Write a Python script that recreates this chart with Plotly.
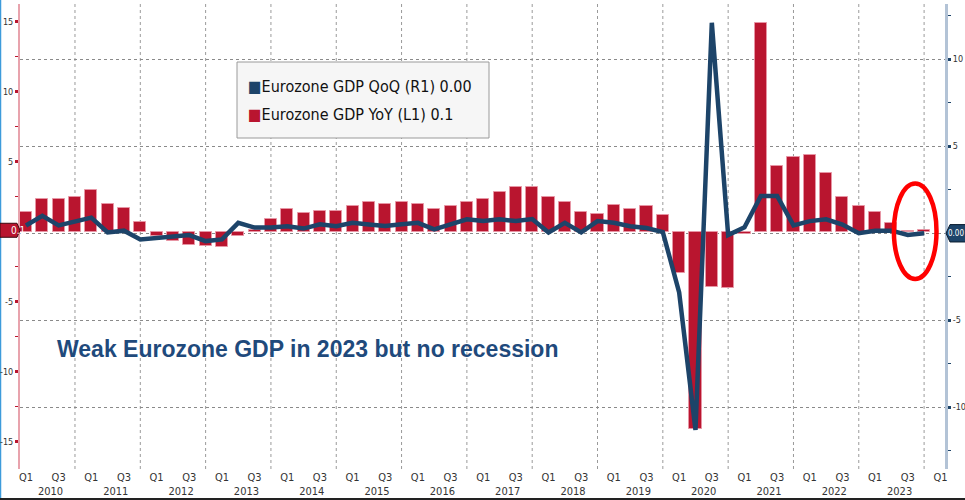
import plotly.graph_objects as go

# Quarterly periods 2010Q1 .. 2023Q4
years = list(range(2010, 2024))
quarters = [f"{y}Q{q}" for y in years for q in (1, 2, 3, 4)]

# Eurozone GDP, % year-on-year (left axis, bars)
gdp_yoy = [1.4, 2.3, 2.3, 2.5, 3.0, 2.0, 1.7, 0.7,
           -0.3, -0.7, -0.95, -1.0, -1.1, -0.3, 0.1, 0.9,
           1.65, 1.3, 1.5, 1.5, 1.8, 2.1, 2.0, 2.1,
           2.0, 1.65, 1.8, 2.15, 2.3, 2.85, 3.2, 3.2,
           2.5, 2.15, 1.4, 1.25, 1.9, 1.65, 1.8, 1.2,
           -2.95, -14.1, -3.95, -4.0, -0.15, 14.9, 4.7, 5.3,
           5.45, 4.2, 2.5, 1.85, 1.4, 0.65, 0.03, 0.1]

# Eurozone GDP, % quarter-on-quarter (right axis, line)
gdp_qoq = [0.45, 1.0, 0.45, 0.65, 0.9, 0.05, 0.15, -0.35,
           -0.25, -0.15, -0.1, -0.45, -0.35, 0.6, 0.33, 0.33,
           0.4, 0.27, 0.52, 0.4, 0.6, 0.5, 0.42, 0.52,
           0.6, 0.23, 0.5, 0.8, 0.7, 0.8, 0.7, 0.82,
           0.05, 0.6, 0.05, 0.7, 0.6, 0.4, 0.3, 0.07,
           -3.4, -11.3, 12.1, -0.1, 0.35, 2.15, 2.15, 0.45,
           0.7, 0.8, 0.5, 0.0, 0.15, 0.15, -0.1, 0.0]

# Axis tick labels
left_ticks = [-15, -10, -5, 5, 10, 15]
right_ticks = [-10, -5, 5, 10]
axis_periods = quarters + ["2024Q1"]
quarter_tick_text = [p[-2:] for p in axis_periods if p[-1] in "13"]
year_tick_text = [str(y) for y in years]

NAVY = "#1D4469"
CRIMSON = "#B9152F"
NARROW = "Liberation Sans Narrow, DejaVu Sans Condensed, Arial Narrow, sans-serif"

idx = list(range(len(quarters)))
axis_idx = list(range(len(axis_periods)))
q_pos = [i for i, p in zip(axis_idx, axis_periods) if p[-1] in "13"]
q4_pos = [i for i, p in zip(axis_idx, axis_periods) if p[-1] == "4"]
year_pos = [i + 1.5 for i, p in zip(idx, quarters) if p.endswith("Q1")]

# Quarter labels on the first line, year labels on the second line
x_tickvals = q_pos + year_pos
x_ticktext = quarter_tick_text + ["<br>" + y for y in year_tick_text]

X_RANGE = [-0.367, 56.28]

fig = go.Figure()
fig.add_trace(go.Bar(
    x=idx, y=gdp_yoy, yaxis="y", xaxis="x",
    marker=dict(color=CRIMSON, line=dict(color="rgba(232,150,165,0.9)", width=1)),
    width=0.74, name="Eurozone GDP YoY (L1)", showlegend=False,
))
fig.add_trace(go.Scatter(
    x=idx, y=gdp_qoq, yaxis="y2", xaxis="x", mode="lines",
    line=dict(color=NAVY, width=4.5), name="Eurozone GDP QoQ (R1)",
    showlegend=False,
))

# Pixel helpers for decorations outside the data (plot area spans x 20..945, y 4..469)
def px(x):
    return (x - 20) / 925

def py(y):
    return (469 - y) / 465

shapes = []
annotations = []

# Year-end vertical grid lines
for q4 in q4_pos:
    shapes.append(dict(type="line", xref="x", yref="paper", x0=q4, x1=q4, y0=0, y1=1,
                       line=dict(color="#9A9A9A", width=1, dash="dot"), layer="below"))

# Left page edge and bottom rule
shapes.append(dict(type="line", xref="paper", yref="paper", x0=px(0.5), x1=px(0.5),
                   y0=py(0), y1=py(500), line=dict(color="#3D9BDB", width=1.5), layer="below"))
shapes.append(dict(type="line", xref="paper", yref="paper", x0=px(0), x1=px(965),
                   y0=py(499), y1=py(499), line=dict(color="#222222", width=2)))

# Legend box
shapes.append(dict(type="rect", xref="paper", yref="paper", x0=px(237), x1=px(489),
                   y0=py(138), y1=py(62), fillcolor="#F6F6F6",
                   line=dict(color="#9A9A9A", width=1), layer="above"))
legend_rows = [
    (NAVY, f"Eurozone GDP QoQ (R1) {gdp_qoq[-1]:.2f}", 87),
    (CRIMSON, f"Eurozone GDP YoY (L1) {gdp_yoy[-1]:.1f}", 114),
]
for color, label, ypix in legend_rows:
    annotations.append(dict(
        xref="paper", yref="paper", x=px(246), y=py(ypix), xanchor="left", yanchor="middle",
        text=f"<span style='color:{color}'>■</span>{label}", showarrow=False,
        font=dict(family=NARROW, size=16, color="#111111"),
    ))

# Headline
annotations.append(dict(
    xref="paper", yref="paper", x=px(55), y=py(349), xanchor="left", yanchor="middle",
    text="<b>Weak Eurozone GDP in 2023 but no recession</b>", showarrow=False,
    font=dict(family="Liberation Sans, Arial, sans-serif", size=23, color="#1F4A7C"),
))

# Highlight ring around the latest quarters
shapes.append(dict(type="circle", xref="x", yref="y", x0=53.15, x1=55.76, y0=-3.38, y1=3.44,
                   line=dict(color="#FF0000", width=4.5), layer="above"))

# Last-value tags on each axis
v_left = gdp_yoy[-1]
h_l = 0.5
shapes.append(dict(type="path", xref="paper", yref="y",
                   path=(f"M {px(0)},{v_left - h_l} L {px(17)},{v_left - h_l} L {px(20)},{v_left} "
                         f"L {px(17)},{v_left + h_l} L {px(0)},{v_left + h_l} Z"),
                   fillcolor=CRIMSON, line=dict(color="#3a0a10", width=1), layer="above"))
annotations.append(dict(xref="paper", yref="y", x=px(9), y=v_left, text=f"{v_left:.1f}",
                        showarrow=False, font=dict(family=NARROW, size=10, color="white")))

v_right = gdp_qoq[-1]
h_r = 0.5
shapes.append(dict(type="path", xref="paper", yref="y2",
                   path=(f"M {px(946)},{v_right} L {px(950)},{v_right + h_r} L {px(967)},{v_right + h_r} "
                         f"L {px(967)},{v_right - h_r} L {px(950)},{v_right - h_r} Z"),
                   fillcolor=NAVY, line=dict(color="#0b1d30", width=1), layer="above"))
annotations.append(dict(xref="paper", yref="y2", x=px(946.5), y=v_right, xanchor="left",
                        text=f"{v_right:.2f}", showarrow=False, borderpad=0,
                        font=dict(family=NARROW, size=8, color="white")))

TICK_FONT = dict(family=NARROW, size=9, color="#333333")

fig.update_layout(
    width=965, height=500,
    margin=dict(l=20, r=20, t=4, b=31, autoexpand=False),
    paper_bgcolor="white", plot_bgcolor="white",
    bargap=0, showlegend=False,
    shapes=shapes, annotations=annotations,
    xaxis=dict(range=X_RANGE, tickvals=x_tickvals, ticktext=x_ticktext, tickangle=0,
               ticks="", showgrid=False, zeroline=False, showline=False, automargin=False,
               tickfont=dict(family=NARROW, size=11, color="#333333")),
    yaxis=dict(range=[-16.95, 16.26], tickvals=left_ticks,
               ticktext=[str(v) for v in left_ticks], side="left",
               showgrid=False, zeroline=False, automargin=False,
               showline=True, linecolor="#E8A3AD", linewidth=2,
               ticks="outside", ticklen=3, tickwidth=3, tickcolor=CRIMSON,
               minor=dict(tickvals=[-12.5, -7.5, -2.5, 2.5, 7.5, 12.5], ticks="outside",
                          ticklen=3, tickwidth=1, tickcolor=CRIMSON, showgrid=False),
               tickfont=TICK_FONT),
    yaxis2=dict(range=[-13.55, 13.18], tickvals=right_ticks + [0], overlaying="y",
                side="right", anchor="x", automargin=False,
                ticktext=[str(v) for v in right_ticks] + [""],
                showgrid=True, gridcolor="#8A8A8A", griddash="dot", gridwidth=1,
                zeroline=False, showline=True, linecolor="#B3C3D6", linewidth=3,
                ticks="outside", ticklen=3, tickwidth=3, tickcolor=NAVY,
                minor=dict(tickvals=[-12.5, -7.5, -2.5, 2.5, 7.5, 12.5], ticks="outside",
                           ticklen=3, tickwidth=1, tickcolor=NAVY, showgrid=False),
                tickfont=TICK_FONT),
)

fig.write_html("out.html")
